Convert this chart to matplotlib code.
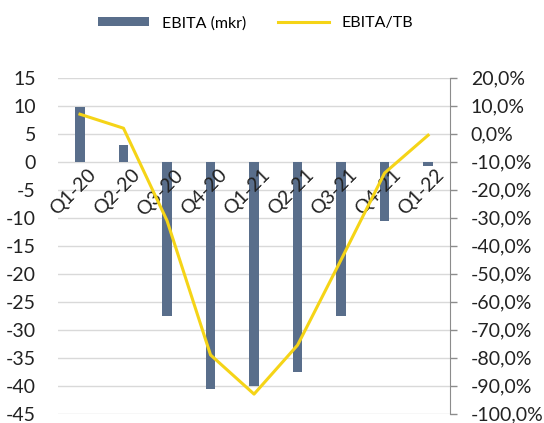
import numpy as np
import matplotlib
matplotlib.use("Agg")
import matplotlib.pyplot as plt
from matplotlib.ticker import FuncFormatter

plt.rcParams['font.family'] = ['Lato', 'DejaVu Sans']
plt.rcParams['axes.unicode_minus'] = False

quarters = ["Q1-20", "Q2-20", "Q3-20", "Q4-20", "Q1-21", "Q2-21", "Q3-21", "Q4-21", "Q1-22"]
ebita = [9.7, 3.0, -27.5, -40.5, -40.0, -37.5, -27.5, -10.5, -0.7]
ebita_tb = [0.07, 0.02, -0.31, -0.79, -0.93, -0.755, -0.45, -0.14, -0.005]

bar_col = "#596e8b"
line_col = "#f5d417"

fig = plt.figure(figsize=(5.44, 4.23), dpi=100, facecolor="white")
ax = fig.add_axes([0.107, 0.022, 0.72, 0.794])
ax2 = ax.twinx()

x = np.arange(len(quarters))
ax.bar(x, ebita, width=0.22, color=bar_col, zorder=2, label="EBITA (mkr)")
ax2.plot(x, ebita_tb, color=line_col, lw=2.2, zorder=3, label="EBITA/TB")

ax.set_xlim(-0.5, len(quarters) - 0.5)
ax.set_ylim(-45, 15)
ax.set_yticks(np.arange(-45, 16, 5))
ax.yaxis.grid(True, color="#d9d9d9", lw=1)
ax.set_axisbelow(True)
ax.set_xticks([])
ax.tick_params(axis="y", length=0, pad=16, labelsize=14, colors="#222222")
for s in ["top", "bottom", "left", "right"]:
    ax.spines[s].set_visible(False)

ax2.set_ylim(-1.0, 0.2)
ax2.set_yticks(np.arange(-1.0, 0.21, 0.1))
ax2.yaxis.set_major_formatter(FuncFormatter(lambda v, p: ("%.1f%%" % (v * 100)).replace(".", ",").replace("-0,0", "0,0")))
ax2.tick_params(axis="y", length=5, width=1, color="#8c8c8c", pad=10, labelsize=14, labelcolor="#222222")
for s in ["top", "bottom", "left"]:
    ax2.spines[s].set_visible(False)
ax2.spines["right"].set_color("#8c8c8c")

# category labels rotated under the zero line
for i, q in enumerate(quarters):
    ax.text(i + 0.17, -0.8, q, rotation=45, rotation_mode="anchor", ha="right", va="top",
            fontsize=14, color="#222222", zorder=4)

h1, l1 = ax.get_legend_handles_labels()
h2, l2 = ax2.get_legend_handles_labels()
fig.legend(h1 + h2, l1 + l2, loc="center", bbox_to_anchor=(0.47, 0.945), ncol=2,
           frameon=False, fontsize=11.5, handlelength=3.2, columnspacing=2.0, handleheight=0.45)

fig.savefig("out.png", dpi=100, facecolor="white")
